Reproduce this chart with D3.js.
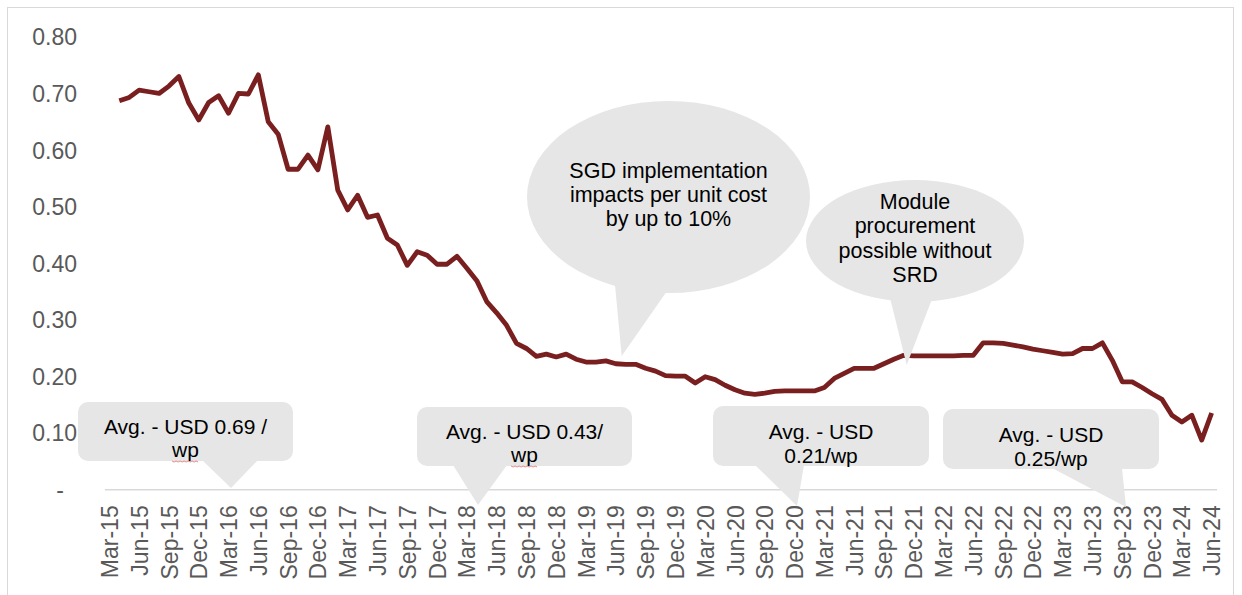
<!DOCTYPE html>
<html>
<head>
<meta charset="utf-8">
<script src="https://cdnjs.cloudflare.com/ajax/libs/d3/7.8.5/d3.min.js"></script>
<style>
    body { margin: 0; background: #ffffff; }
    svg { display: block; font-family: Arial, "Liberation Sans", sans-serif; }
</style>
</head>
<body>
<svg id="chart" width="1242" height="595"></svg>
<script>
// monthly categories Mar-15 .. Jun-24
var monthNames = ["Jan", "Feb", "Mar", "Apr", "May", "Jun", "Jul", "Aug", "Sep", "Oct", "Nov", "Dec"];
var startYear = 2015, startMonth = 2, monthCount = 112;

var tickLabels = ["Mar-15", "Jun-15", "Sep-15", "Dec-15", "Mar-16", "Jun-16", "Sep-16", "Dec-16",
    "Mar-17", "Jun-17", "Sep-17", "Dec-17", "Mar-18", "Jun-18", "Sep-18", "Dec-18",
    "Mar-19", "Jun-19", "Sep-19", "Dec-19", "Mar-20", "Jun-20", "Sep-20", "Dec-20",
    "Mar-21", "Jun-21", "Sep-21", "Dec-21", "Mar-22", "Jun-22", "Sep-22", "Dec-22",
    "Mar-23", "Jun-23", "Sep-23", "Dec-23", "Mar-24", "Jun-24"];

// USD / wp, first month has no value
var price = [null,
    0.687, 0.693, 0.706, 0.703, 0.700, 0.713, 0.730, 0.683, 0.653, 0.684,
    0.696, 0.665, 0.700, 0.699, 0.733, 0.650, 0.628, 0.566, 0.566, 0.591,
    0.565, 0.641, 0.529, 0.494, 0.520, 0.481, 0.485, 0.444, 0.432, 0.396,
    0.420, 0.414, 0.398, 0.398, 0.412, 0.391, 0.369, 0.332, 0.312, 0.290,
    0.258, 0.249, 0.235, 0.239, 0.234, 0.239, 0.230, 0.225, 0.225, 0.227,
    0.222, 0.221, 0.221, 0.214, 0.209, 0.201, 0.200, 0.200, 0.188, 0.199,
    0.194, 0.184, 0.176, 0.170, 0.168, 0.170, 0.173, 0.174, 0.174, 0.174,
    0.174, 0.180, 0.196, 0.205, 0.214, 0.214, 0.214, 0.222, 0.230, 0.237,
    0.236, 0.236, 0.236, 0.236, 0.236, 0.237, 0.237, 0.259, 0.259, 0.258,
    0.255, 0.252, 0.248, 0.245, 0.242, 0.239, 0.240, 0.249, 0.249, 0.259,
    0.228, 0.190, 0.190, 0.180, 0.169, 0.159, 0.131, 0.119, 0.131, 0.087, 0.135];

var yTicks = [0, 0.1, 0.2, 0.3, 0.4, 0.5, 0.6, 0.7, 0.8];

var boxNotes = [
    ["Avg. - USD 0.69 /", "wp"],
    ["Avg. - USD 0.43/", "wp"],
    ["Avg. - USD", "0.21/wp"],
    ["Avg. - USD", "0.25/wp"]
];
var bubbleNotes = [
    ["SGD implementation", "impacts per unit cost", "by up to 10%"],
    ["Module", "procurement", "possible without", "SRD"]
];

var categories = d3.range(monthCount).map(function (i) {
    var m = startMonth + i;
    return monthNames[m % 12] + "-" + String((startYear + Math.floor(m / 12)) % 100);
});

/* LAYOUT */
var lineColor = "#7a1f1f",
    noteFill = "#e6e6e6",
    labelColor = "#595959";

// placement of the call-outs (box, pointer tip, pointer base)
var boxLayout = [
    {x: 78, y: 402, w: 215, h: 59, tip: [231, 488], base: [202, 258], lineY: [434, 457], squiggle: true},
    {x: 417, y: 407, w: 215, h: 59, tip: [478, 505], base: [453, 507], lineY: [439, 462], squiggle: true},
    {x: 713, y: 406, w: 216, h: 60, tip: [797, 506], base: [755, 804], lineY: [439, 463]},
    {x: 943, y: 409, w: 216, h: 60, tip: [1126, 507], base: [1052, 1122], lineY: [442, 466]}
];
var bubbleLayout = [
    {cx: 668.5, cy: 197, rx: 141.5, ry: 96, tip: [621.7, 356], base: [[615, 285], [667, 291]], lineY: [178, 202, 226]},
    {cx: 915, cy: 241, rx: 109, ry: 61, tip: [906.7, 365], base: [[890, 298], [932, 299]], lineY: [208.5, 233, 257.5, 282]}
];

var svg = d3.select("#chart");

var x = d3.scalePoint()
    .domain(categories)
    .range([104.4, 1216.6])
    .padding(0.5);

var y = d3.scaleLinear()
    .domain([0, 0.8])
    .range([489.3, 36.9]);

var layers = {};

layers.frame = function () {
    svg.append("rect")
        .attr("x", 7.5)
        .attr("y", 7.5)
        .attr("width", 1226)
        .attr("height", 600)
        .attr("fill", "none")
        .attr("stroke", "#d9d9d9")
        .attr("stroke-width", 1);
};

layers.yAxis = function () {
    var yAxis = d3.axisLeft(y)
        .tickValues(yTicks)
        .tickSize(0)
        .tickPadding(0)
        .tickFormat(function (d) { return d === 0 ? "-" : d3.format(".2f")(d); });

    var g = svg.append("g")
        .attr("transform", "translate(77,0)")
        .call(yAxis);
    g.select(".domain").remove();
    g.selectAll("text")
        .attr("fill", labelColor)
        .style("font-size", "23px")
        .attr("dy", "0.35em");
    g.selectAll(".tick")
        .filter(function (d) { return d === 0; })
        .select("text")
        .attr("text-anchor", "middle")
        .attr("x", -17);
};

layers.xAxis = function () {
    var xAxis = d3.axisBottom(x)
        .tickValues(tickLabels)
        .tickSize(0)
        .tickSizeOuter(0);

    var g = svg.append("g")
        .attr("transform", "translate(0," + y(0) + ")")
        .call(xAxis);
    g.select(".domain")
        .attr("stroke", "#d9d9d9")
        .attr("stroke-width", 1.5);
    g.selectAll("text")
        .attr("fill", labelColor)
        .style("font-size", "23px")
        .attr("text-anchor", "end")
        .attr("transform", "translate(0,16) rotate(-90)")
        .attr("x", 0)
        .attr("y", 0)
        .attr("dy", "0.35em");
};

layers.line = function () {
    var line = d3.line()
        .defined(function (d) { return d.value !== null; })
        .x(function (d) { return x(d.cat); })
        .y(function (d) { return y(d.value); });

    var rows = categories.map(function (c, i) { return {cat: c, value: price[i]}; });

    svg.append("path")
        .datum(rows)
        .attr("fill", "none")
        .attr("stroke", lineColor)
        .attr("stroke-width", 4.8)
        .attr("stroke-linejoin", "round")
        .attr("d", line);
};

layers.boxes = function () {
    boxLayout.forEach(function (b, i) {
        var g = svg.append("g").classed("note", true);
        g.append("rect")
            .attr("x", b.x).attr("y", b.y)
            .attr("width", b.w).attr("height", b.h)
            .attr("rx", 10).attr("ry", 10)
            .attr("fill", noteFill);
        g.append("path")
            .attr("d", "M" + b.base[0] + "," + (b.y + b.h - 1) +
                "L" + b.tip[0] + "," + b.tip[1] +
                "L" + b.base[1] + "," + (b.y + b.h - 1) + "Z")
            .attr("fill", noteFill);

        var cx = b.x + b.w / 2;
        boxNotes[i].forEach(function (t, j) {
            var txt = g.append("text")
                .attr("x", cx)
                .attr("y", b.lineY[j])
                .attr("text-anchor", "middle")
                .style("font-size", "21px")
                .attr("fill", "#000")
                .text(t);
            // spell-check underline under "wp"
            if (b.squiggle && t === "wp") {
                var w = txt.node().getComputedTextLength();
                var pts = d3.range(0, Math.floor(w / 2) + 1).map(function (k) {
                    return [cx - w / 2 + k * 2, b.lineY[j] + 4 + (k % 2 ? 1 : 0)];
                });
                g.append("path")
                    .attr("d", d3.line()(pts))
                    .attr("fill", "none")
                    .attr("stroke", "#e06666")
                    .attr("stroke-width", 0.8);
            }
        });
    });
};

layers.bubbles = function () {
    bubbleLayout.forEach(function (b, i) {
        var g = svg.append("g").classed("bubble", true);
        g.append("ellipse")
            .attr("cx", b.cx).attr("cy", b.cy)
            .attr("rx", b.rx).attr("ry", b.ry)
            .attr("fill", noteFill);
        g.append("path")
            .attr("d", "M" + b.base[0][0] + "," + b.base[0][1] +
                "L" + b.tip[0] + "," + b.tip[1] +
                "L" + b.base[1][0] + "," + b.base[1][1] + "Z")
            .attr("fill", noteFill);
        bubbleNotes[i].forEach(function (t, j) {
            g.append("text")
                .attr("x", b.cx)
                .attr("y", b.lineY[j])
                .attr("text-anchor", "middle")
                .style("font-size", "21.5px")
                .attr("fill", "#000")
                .text(t);
        });
    });
};

layers.frame();
layers.yAxis();
layers.xAxis();
layers.line();
layers.bubbles();
layers.boxes();
</script>
</body>
</html>
